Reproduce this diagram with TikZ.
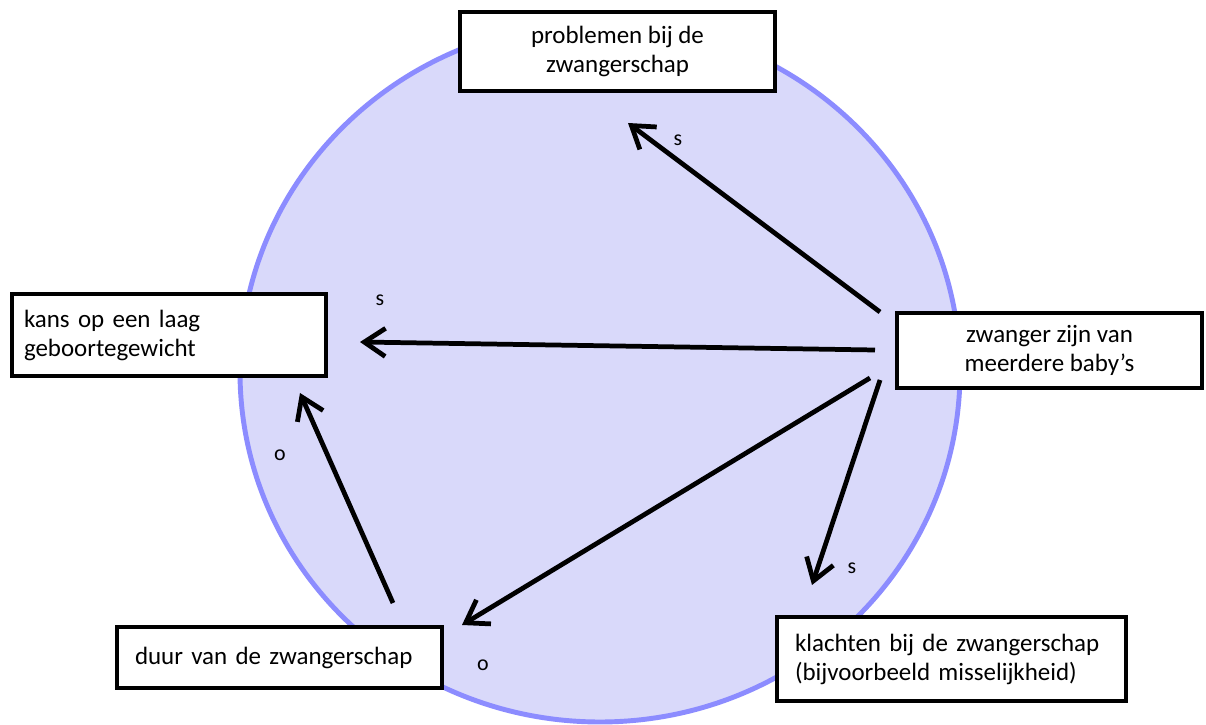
\documentclass[tikz,border=0pt]{standalone}
\usepackage{fontspec}
\setmainfont{Carlito}
\usetikzlibrary{arrows.meta}
\definecolor{ellfill}{RGB}{217,217,250}
\definecolor{elldraw}{RGB}{140,140,255}
\begin{document}
\begin{tikzpicture}[
  box/.style={draw=black, line width=2.3pt, fill=white, font=\fontsize{14.2}{16.5}\selectfont, inner ysep=2pt},
  lbox/.style={box, align=left, inner xsep=0pt},
  cbox/.style={box, align=center},
  arr/.style={line width=2.7pt, -{Straight Barb[length=12pt, width=16pt, line width=2.7pt]}},
  lbl/.style={font=\fontsize{12.5}{14}\selectfont, inner sep=0pt}
]
\useasboundingbox (0,0) rectangle (24.12,-14.5);
\fill[white] (0,0) rectangle (24.12,-14.5);
\draw[fill=ellfill, draw=elldraw, line width=2.8pt] (12,-7.44) ellipse [x radius=7.2, y radius=7.0];

\node[cbox, minimum width=6.3cm, minimum height=1.58cm] (prob) at (12.35,-1.03) {problemen bij de\\zwangerschap};
\node[lbox, minimum width=6.28cm, minimum height=1.64cm, text width=5.8cm, inner xsep=0.24cm] (kans) at (3.38,-6.7) {kans op een laag\\geboortegewicht};
\node[cbox, minimum width=6.1cm, minimum height=1.5cm] (zw) at (20.99,-7.01) {zwanger zijn van\\meerdere baby’s};
\node[lbox, minimum width=6.5cm, minimum height=1.22cm, text width=5.78cm, inner xsep=0.36cm] (duur) at (5.59,-13.15) {duur van de zwangerschap};
\node[lbox, minimum width=6.98cm, minimum height=1.68cm, text width=6.26cm, inner xsep=0.36cm] (klacht) at (19.03,-13.18) {klachten bij de zwangerschap\\(bijvoorbeeld misselijkheid)};

\coordinate (a1s) at (17.6,-6.24);
\coordinate (a1e) at (12.56,-2.46);
\coordinate (a2s) at (17.5,-7.0);
\coordinate (a2e) at (7.2,-6.84);
\coordinate (a3s) at (17.6,-7.6);
\coordinate (a3e) at (16.24,-11.7);
\coordinate (a4s) at (17.4,-7.56);
\coordinate (a4e) at (9.24,-12.5);
\coordinate (a5s) at (7.86,-12.06);
\coordinate (a5e) at (6.0,-7.86);

\draw[arr] (a1s) -- (a1e);
\draw[arr] (a2s) -- (a2e);
\draw[arr] (a3s) -- (a3e);
\draw[arr] (a4s) -- (a4e);
\draw[arr] (a5s) -- (a5e);

\node[lbl] (l1) at (13.56,-2.8) {s};
\node[lbl] (l2) at (7.6,-6.0) {s};
\node[lbl] (l3) at (17.04,-11.36) {s};
\node[lbl] (l4) at (9.66,-13.3) {o};
\node[lbl] (l5) at (5.6,-9.1) {o};
\end{tikzpicture}
\end{document}
